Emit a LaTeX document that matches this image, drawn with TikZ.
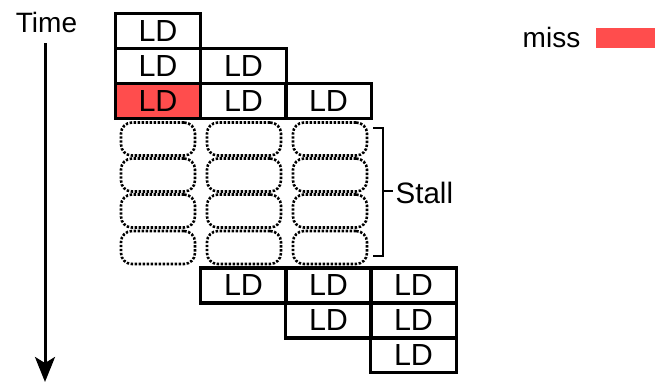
\documentclass[tikz,border=0pt]{standalone}
\usepackage{fontspec}
\setmainfont{Liberation Sans}
\usetikzlibrary{arrows.meta}
\definecolor{missred}{RGB}{255,77,77}
\begin{document}
\begin{tikzpicture}[x=1pt,y=-1pt,
  ldbox/.style={draw,line width=3.2pt,minimum width=85.5pt,minimum height=35pt,inner sep=0pt,outer sep=0pt,font=\fontsize{30.5}{32}\selectfont},
  stallbox/.style={draw,line width=2.6pt,dash pattern=on 2.4pt off 1.6pt,rounded corners=11pt,minimum width=74pt,minimum height=33pt,inner sep=0pt},
  lbl/.style={font=\fontsize{28}{30}\selectfont,inner sep=0pt}]
\useasboundingbox (0,0) rectangle (655,383);
% time axis
\node[lbl,anchor=base] (time) at (46.5,32) {Time};
\coordinate (ttop) at (45,43);
\coordinate (tbot) at (45,382);
\draw[line width=3pt,-{Stealth[length=25pt,width=20pt,inset=6pt]}] (ttop) -- (tbot);
% top loads
\node[ldbox] (a1) at (158,31) {LD};
\node[ldbox] (b1) at (158,66) {LD};
\node[ldbox] (b2) at (243.5,66) {LD};
\node[ldbox,fill=missred] (c1) at (158,101) {LD};
\node[ldbox] (c2) at (243.5,101) {LD};
\node[ldbox] (c3) at (328.5,101) {LD};
% stall boxes
\foreach \c/\x in {1/158,2/244,3/330}{
  \foreach \r/\y in {1/139,2/175,3/211,4/247.5}{
    \node[stallbox] (s\c\r) at (\x,\y) {};
  }
}
% bottom loads
\node[ldbox] (d1) at (243.5,285.5) {LD};
\node[ldbox] (d2) at (328.5,285.5) {LD};
\node[ldbox] (d3) at (413.5,285.5) {LD};
\node[ldbox] (e2) at (328.5,320.5) {LD};
\node[ldbox] (e3) at (413.5,320.5) {LD};
\node[ldbox] (f3) at (413.5,355) {LD};
% bracket
\node[lbl,anchor=base west,font=\fontsize{29.5}{31}\selectfont] (stall) at (395.5,203) {Stall};
\coordinate (bt) at (373,128);
\coordinate (bb) at (373,256);
\draw[line width=2.6pt] (bt) -- (383,128) -- (383,256) -- (bb);
\draw[line width=2.6pt] (383,191) -- (393,191);
% legend
\node[lbl,anchor=base] (miss) at (551.5,47) {miss};
\node[fill=missred,minimum width=59pt,minimum height=20pt,inner sep=0pt,outer sep=0pt] (missbox) at (625.5,38) {};
\end{tikzpicture}
\end{document}
